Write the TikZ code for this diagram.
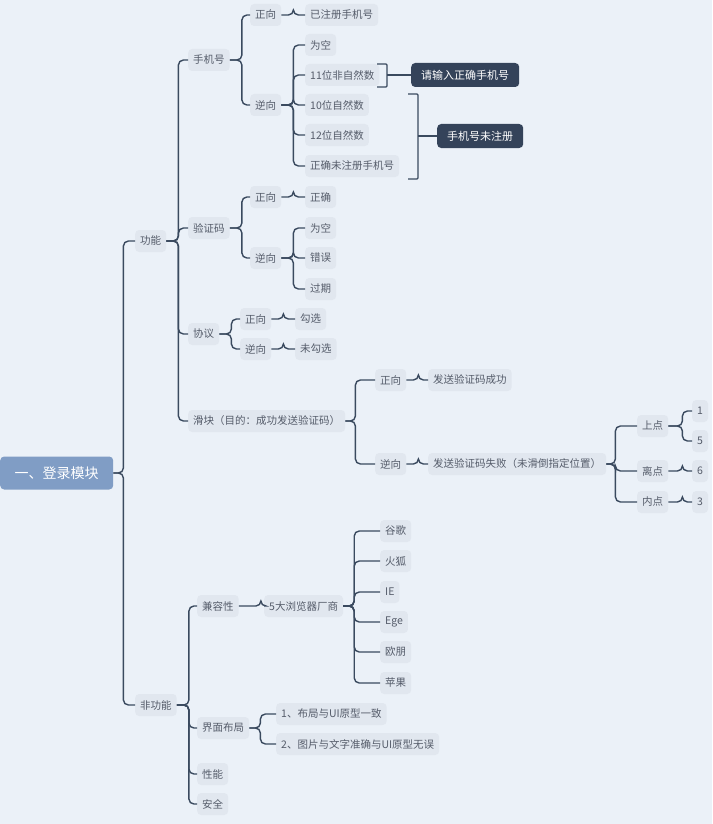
\documentclass[tikz,border=0pt]{standalone}
\usepackage{fontspec}
\setmainfont{Noto Sans CJK SC}
\definecolor{bg}{HTML}{EBF1F8}
\definecolor{box}{HTML}{E1E7EF}
\definecolor{ln}{HTML}{3A4A5F}
\definecolor{tx}{HTML}{555C6A}
\definecolor{dk}{HTML}{34435A}
\definecolor{rt}{HTML}{809DC5}
\begin{document}
\begin{tikzpicture}[x=1pt,y=-1pt,
  lb/.style={anchor=west,fill=box,rounded corners=4pt,inner xsep=5pt,inner ysep=0pt,minimum height=22pt,text=tx,font=\fontsize{10.5}{12}\selectfont},
  dkb/.style={fill=dk,text=white,rounded corners=4pt,inner xsep=10pt,minimum height=24pt,font=\fontsize{11}{13}\selectfont},
  conn/.style={draw=ln,line width=1.4pt,rounded corners=5pt}]
\fill[bg] (0,0) rectangle (712,824);
\useasboundingbox (0,0) rectangle (712,824);
\node[fill=rt,text=white,rounded corners=4pt,minimum width=113pt,minimum height=33pt,anchor=west,font=\fontsize{14}{16}\selectfont] (root) at (0,473) {一、登录模块};
\newcommand\cn[3]{\draw[conn] (#1.east) -- ([xshift=#3pt]#1.east) |- (#2.west);}
\node[lb] (gn) at (135,241) {功能};
\node[lb] (fgn) at (135,705) {非功能};
\cn{root}{gn}{10}\cn{root}{fgn}{10}
\node[lb] (sj) at (188,60) {手机号};
\node[lb] (yzm) at (188,228) {验证码};
\node[lb] (xy) at (188,334) {协议};
\node[lb] (hk) at (188,421) {滑块（目的：成功发送验证码）};
\foreach \c in {sj,yzm,xy,hk}{\cn{gn}{\c}{12}}
% phone
\node[lb] (sz) at (250,15) {正向};
\node[lb] (sn) at (250,105) {逆向};
\cn{sj}{sz}{12}\cn{sj}{sn}{12}
\node[lb] (sz1) at (305,15) {已注册手机号};
\cn{sz}{sz1}{12}
\node[lb] (n1) at (305,45) {为空};
\node[lb] (n2) at (305,75) {11位非自然数};
\node[lb] (n3) at (305,105) {10位自然数};
\node[lb] (n4) at (305,135) {12位自然数};
\node[lb] (n5) at (305,166) {正确未注册手机号};
\foreach \c in {n1,n2,n3,n4,n5}{\cn{sn}{\c}{12}}
\node[dkb,anchor=west] (b1) at (411,75) {请输入正确手机号};
\node[dkb,anchor=west] (b2) at (437,136) {手机号未注册};
\coordinate (k1) at (397,75);
\coordinate (k2) at (428,136);
\draw[conn,rounded corners=1pt] (377,64) -- (387,64) -- (387,87) -- (377,87);
\draw[conn] (387,75) -- (k1) -- (b1.west);
\draw[conn,rounded corners=1pt] (408,94) -- (418,94) -- (418,179) -- (408,179);
\draw[conn] (418,136) -- (k2) -- (b2.west);
% code
\node[lb] (yz) at (250,197) {正向};
\node[lb] (yn) at (250,258) {逆向};
\cn{yzm}{yz}{12}\cn{yzm}{yn}{12}
\node[lb] (yz1) at (305,197) {正确};
\cn{yz}{yz1}{12}
\node[lb] (y1) at (305,228) {为空};
\node[lb] (y2) at (305,258) {错误};
\node[lb] (y3) at (305,289) {过期};
\foreach \c in {y1,y2,y3}{\cn{yn}{\c}{12}}
% agreement
\node[lb] (xz) at (240,319) {正向};
\node[lb] (xn) at (240,349) {逆向};
\cn{xy}{xz}{12}\cn{xy}{xn}{12}
\node[lb] (xz1) at (295,319) {勾选};
\node[lb] (xn1) at (295,349) {未勾选};
\cn{xz}{xz1}{12}\cn{xn}{xn1}{12}
% slider
\node[lb] (hz) at (375,380) {正向};
\node[lb] (hn) at (375,464) {逆向};
\cn{hk}{hz}{10}\cn{hk}{hn}{10}
\node[lb] (hz1) at (428,380) {发送验证码成功};
\node[lb] (hn1) at (428,464) {发送验证码失败（未滑倒指定位置）};
\cn{hz}{hz1}{12}\cn{hn}{hn1}{12}
\node[lb] (sd) at (637,426) {上点};
\node[lb] (ld) at (637,471) {离点};
\node[lb] (nd) at (637,502) {内点};
\foreach \c in {sd,ld,nd}{\cn{hn1}{\c}{9}}
\node[lb] (d1) at (692,411) {1};
\node[lb] (d5) at (692,441) {5};
\node[lb] (d6) at (692,471) {6};
\node[lb] (d3) at (692,502) {3};
\cn{sd}{d1}{14}\cn{sd}{d5}{14}\cn{ld}{d6}{14}\cn{nd}{d3}{14}
% non-functional
\node[lb] (jr) at (197,606) {兼容性};
\node[lb] (jm) at (197,728) {界面布局};
\node[lb] (xn2) at (197,774) {性能};
\node[lb] (aq) at (197,804) {安全};
\foreach \c in {jr,jm,xn2,aq}{\cn{fgn}{\c}{12}}
\node[lb] (llq) at (264,606) {5大浏览器厂商};
\cn{jr}{llq}{22}
\node[lb] (g1) at (380,531) {谷歌};
\node[lb] (g2) at (380,561) {火狐};
\node[lb] (g3) at (380,592) {IE};
\node[lb] (g4) at (380,622) {Ege};
\node[lb] (g5) at (380,652) {欧朋};
\node[lb] (g6) at (380,683) {苹果};
\foreach \c in {g1,g2,g3,g4,g5,g6}{\cn{llq}{\c}{11}}
\node[lb] (j1) at (276,714) {1、布局与UI原型一致};
\node[lb] (j2) at (276,744) {2、图片与文字准确与UI原型无误};
\cn{jm}{j1}{11}\cn{jm}{j2}{11}
\end{tikzpicture}
\end{document}
